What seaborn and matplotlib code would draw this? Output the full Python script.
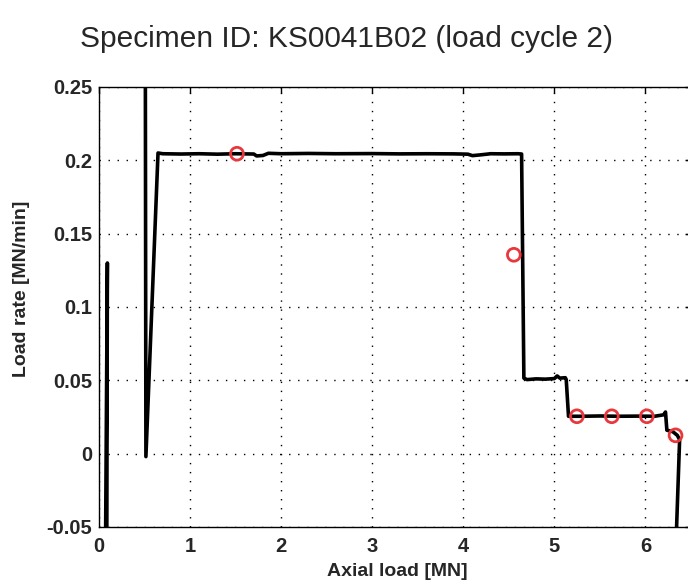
import numpy as np
import pandas as pd
import matplotlib
matplotlib.use('Agg')
import matplotlib.pyplot as plt
import seaborn as sns

# load rate trace, split into segments (gaps where the trace leaves the view)
seg_ids = [0, 0, 0] + [1] * 38
axial_load = [0.070, 0.092, 0.085,
              0.508, 0.515, 0.648, 0.70, 0.90, 1.10, 1.30, 1.50, 1.70, 1.73, 1.80, 1.86,
              2.00, 2.30, 2.60, 3.00, 3.30, 3.60, 3.90, 4.05, 4.10, 4.20, 4.30, 4.45, 4.60,
              4.640, 4.665, 4.70, 4.80, 4.90, 5.00, 5.03, 5.06, 5.12, 5.13, 5.155, 5.30, 5.50]
load_rate = [-0.080, 0.130, -0.080,
             0.300, -0.002, 0.2050, 0.2045, 0.2043, 0.2045, 0.2042, 0.2045, 0.2043, 0.2030, 0.2033, 0.2048,
             0.2045, 0.2047, 0.2045, 0.2046, 0.2044, 0.2045, 0.2044, 0.2042, 0.2032, 0.2038, 0.2045, 0.2044, 0.2045,
             0.2043, 0.0515, 0.0505, 0.0510, 0.0508, 0.0512, 0.0530, 0.0515, 0.0518, 0.0505, 0.0255, 0.0255, 0.0257]
tail_load = [5.70, 5.90, 6.10, 6.20, 6.22, 6.235, 6.30, 6.35, 6.375, 6.325]
tail_rate = [0.0255, 0.0256, 0.0255, 0.0265, 0.0284, 0.0160, 0.0150, 0.0125, 0.0095, -0.080]
seg_ids = seg_ids[:len(axial_load)] + [1] * len(tail_load)
axial_load = axial_load + tail_load
load_rate = load_rate + tail_rate

# marked points (red circles)
mark_load = [1.515, 4.555, 5.247, 5.630, 6.015, 6.330]
mark_rate = [0.2045, 0.1356, 0.0255, 0.0255, 0.0255, 0.0125]

x_ticks = [0, 1, 2, 3, 4, 5, 6]
y_ticks = [-0.05, 0, 0.05, 0.1, 0.15, 0.2, 0.25]
y_ticklabels = ['-0.05', '0', '0.05', '0.1', '0.15', '0.2', '0.25']

sns.set_style('white')
plt.rcParams['font.family'] = ['Liberation Sans', 'DejaVu Sans']

df = pd.DataFrame({'load': axial_load, 'rate': load_rate, 'seg': seg_ids})
df_mark = pd.DataFrame({'load': mark_load, 'rate': mark_rate})

fig = plt.figure(figsize=(6.88, 5.81), dpi=100)
ax = fig.add_axes([99 / 688, 54 / 581, 592 / 688, 440 / 581])

sns.lineplot(data=df, x='load', y='rate', units='seg', estimator=None, sort=False,
             color='black', linewidth=2.6, ax=ax)
sns.scatterplot(data=df_mark, x='load', y='rate', marker='o', s=85,
                facecolors='none', edgecolor='#e8383d', linewidth=2.0, zorder=5, ax=ax)

ax.set_xlim(0, 6.5)
ax.set_ylim(-0.05, 0.25)
ax.set_xticks(x_ticks)
ax.set_yticks(y_ticks)
ax.set_yticklabels(y_ticklabels)
ax.tick_params(direction='in', length=4, width=1, top=True, right=True,
               labelsize=14.5, color='black')
ax.tick_params(axis='x', pad=7)
ax.tick_params(axis='y', pad=5)
for lab in ax.get_xticklabels() + ax.get_yticklabels():
    lab.set_fontweight('bold')

ax.grid(True, color='black', linestyle=(0, (1, 5.5)), linewidth=1.0)
for s in ax.spines.values():
    s.set_color('black')
    s.set_linewidth(1.0)

ax.set_xlabel('')
ax.set_ylabel('')
fig.text(397 / 688, 1 - 571 / 581, 'Axial load [MN]', ha='center', va='center',
         fontsize=14, fontweight='bold')
fig.text(22 / 688, 1 - 289 / 581, 'Load rate [MN/min]', ha='center', va='center',
         rotation=90, fontsize=14, fontweight='bold')
fig.text(0.503, 1 - 39 / 581, 'Specimen ID: KS0041B02 (load cycle 2)', ha='center', va='center',
         fontsize=21.5)

fig.savefig('out.png', dpi=100)
